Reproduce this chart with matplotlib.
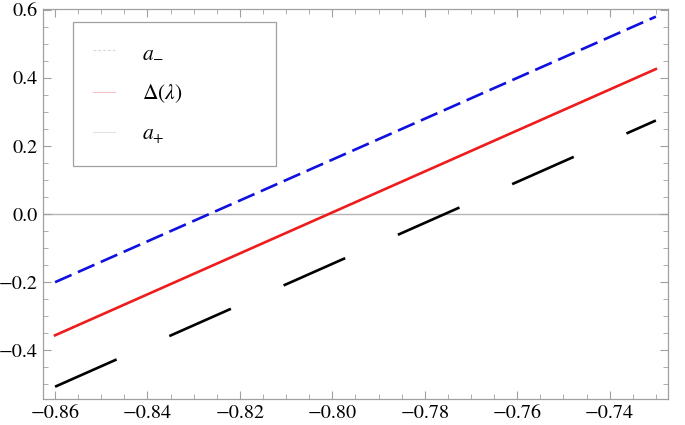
import matplotlib
matplotlib.use('Agg')
import matplotlib.pyplot as plt
from matplotlib.ticker import MultipleLocator, FuncFormatter

# values (straight lines, end points)
lam = [-0.86, -0.73]
a_minus = [-0.200, 0.580]
delta = [-0.356, 0.426]
a_plus = [-0.507, 0.275]

x_ticks = [-0.86, -0.84, -0.82, -0.80, -0.78, -0.76, -0.74]
y_ticks = [-0.4, -0.2, 0.0, 0.2, 0.4, 0.6]

plt.rcParams['font.family'] = ['STIXGeneral', 'Liberation Serif', 'DejaVu Serif']
plt.rcParams['mathtext.fontset'] = 'stix'
plt.rcParams['lines.scale_dashes'] = False

frame_gray = '#a0a0a0'


def fmt(nd):
    def f(v, pos):
        s = '%.*f' % (nd, v)
        if s.startswith('-'):
            if float(s) == 0:
                s = s[1:]
            else:
                s = '\u2212' + s[1:]
        return s
    return FuncFormatter(f)


fig = plt.figure(figsize=(6.85, 4.25), dpi=100)
ax = fig.add_axes([0.0628, 0.0612, 0.9122, 0.9165])

ax.axhline(0.0, color='#b4b4b4', lw=1.0, zorder=1)

ax.plot(lam, a_minus, color='#1010e0', lw=1.9, dashes=(13, 5),
        dash_capstyle='butt', zorder=3)
ax.plot(lam, delta, color='#ee1c1c', lw=1.9, zorder=3)
ax.plot(lam, a_plus, color='black', lw=1.9, dashes=(48.5, 41.5),
        dash_capstyle='butt', zorder=3)

# pale legend samples like the original
h1, = ax.plot([], [], color='#d4d6e4', lw=0.8, ls=(0, (2, 1.5)))
h2, = ax.plot([], [], color='#f4c4c4', lw=0.8)
h3, = ax.plot([], [], color='#e2e2e2', lw=0.8)
leg = ax.legend([h1, h2, h3], [r'$a_{-}$', r'$\Delta(\lambda)$', r'$a_{+}$'],
                loc='upper left', bbox_to_anchor=(0.048, 0.621, 0.325, 0.347),
                mode='expand', fontsize=15.5, handlelength=1.0,
                handletextpad=1.25, labelspacing=0.92, borderpad=0.95,
                borderaxespad=0.0, fancybox=False, framealpha=1.0)
leg.get_frame().set_edgecolor(frame_gray)
leg.get_frame().set_linewidth(0.9)

ax.set_xlim(-0.8626, -0.7274)
ax.set_ylim(-0.543, 0.601)
ax.set_xticks(x_ticks)
ax.set_yticks(y_ticks)
ax.xaxis.set_minor_locator(MultipleLocator(0.005))
ax.yaxis.set_minor_locator(MultipleLocator(0.05))
ax.xaxis.set_major_formatter(fmt(2))
ax.yaxis.set_major_formatter(fmt(1))

ax.tick_params(which='both', direction='in', top=True, right=True,
               color=frame_gray, labelsize=14.5, labelcolor='black')
ax.tick_params(which='major', length=6, width=0.8, pad=4)
ax.tick_params(which='minor', length=3.5, width=0.6)
for s in ax.spines.values():
    s.set_color(frame_gray)
    s.set_linewidth(0.9)

fig.savefig('out.png', dpi=100)
